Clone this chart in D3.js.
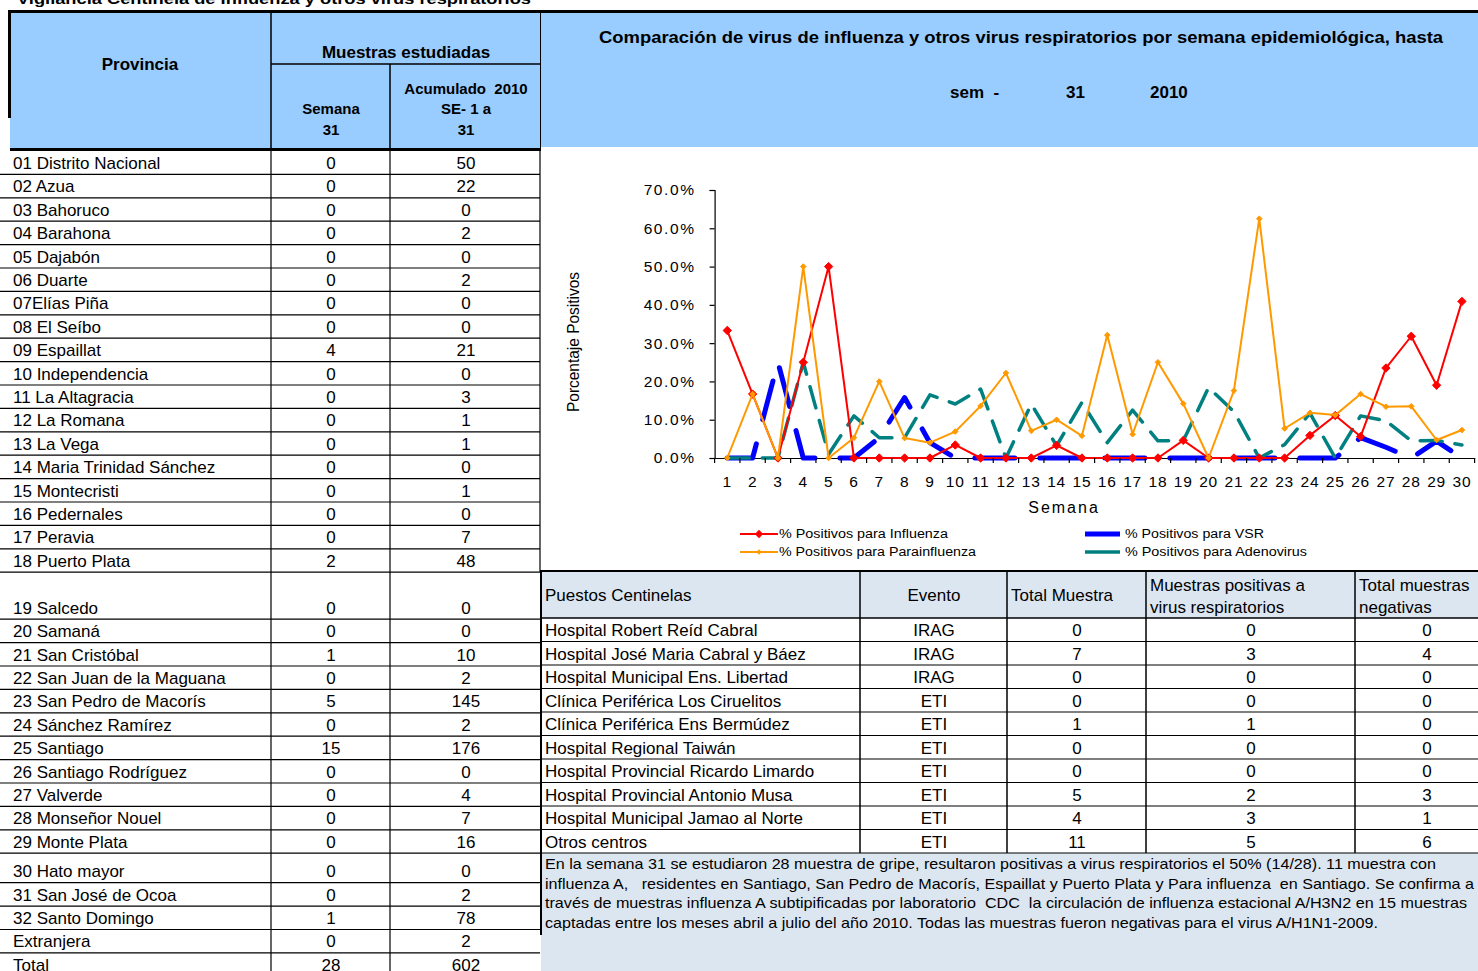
<!DOCTYPE html>
<html>
<head>
<meta charset="utf-8">
<script src="https://cdn.jsdelivr.net/npm/d3@7"></script>
<style>
body { margin: 0; background: #fff; }
svg { display: block; font-family: "Liberation Sans", Arial, sans-serif; }
</style>
</head>
<body>
<svg id="sheet" width="1478" height="971"></svg>
<script>
// ---- chart data (percent of positives per epidemiological week) ----
const weeks = [1,2,3,4,5,6,7,8,9,10,11,12,13,14,15,16,17,18,19,20,21,22,23,24,25,26,27,28,29,30]
const influenza     = [33.3,16.7,0,25,50,0,0,0,0,3.4,0,0,0,3.3,0,0,0,0,4.6,0,0,0,0,5.9,11.1,5.6,23.5,31.8,19.0,40.9]
const vsr           = [0,0,25,0,0,0,5.3,15.8,4.0,0,0,0,0,0,0,0,0,0,0,0,0,0,0,0,0,5.3,2.8,0,4.4,0]
const parainfluenza = [0,16.7,0,50,0,5.3,20,5.2,4.0,6.9,13.6,22.2,7.1,10,5.8,32.1,6.2,25,14.2,0,17.6,62.5,7.7,11.8,11.2,16.7,13.4,13.5,4.7,7.3]
const adenovirus    = [0,0,0,25,1,11,5.3,5.3,16.5,14.1,18,0,14.1,3.2,14.5,4,12.5,4.5,4.5,18.4,12.1,0,3.5,11.7,0,11,9.7,4.5,4.6,3.4]
const yTicks = [0,10,20,30,40,50,60,70]

// ---- province table ----
const provinces = ["01 Distrito Nacional","02 Azua","03 Bahoruco","04 Barahona","05 Dajabón","06 Duarte",
  "07Elías Piña","08 El Seíbo","09 Espaillat","10 Independencia","11 La Altagracia","12 La Romana",
  "13 La Vega","14 Maria Trinidad Sánchez","15 Montecristi","16 Pedernales","17 Peravia","18 Puerto Plata",
  "19 Salcedo","20 Samaná","21 San Cristóbal","22 San Juan de la Maguana","23 San Pedro de Macorís",
  "24 Sánchez Ramírez","25 Santiago","26 Santiago Rodríguez","27 Valverde","28 Monseñor Nouel",
  "29 Monte Plata","30 Hato mayor","31 San José de Ocoa","32 Santo Domingo","Extranjera","Total"]
const semana31   = [0,0,0,0,0,0,0,0,4,0,0,0,0,0,0,0,0,2,0,0,1,0,5,0,15,0,0,0,0,0,0,1,0,28]
const acumulado  = [50,22,0,2,0,2,0,0,21,0,3,1,1,0,1,0,7,48,0,0,10,2,145,2,176,0,4,7,16,0,2,78,2,602]

// ---- sentinel sites table ----
const sentinelHeaders = ["Puestos Centinelas","Evento","Total Muestra","Muestras positivas a|virus respiratorios","Total muestras|negativas"]
const sites = ["Hospital Robert Reíd Cabral","Hospital José Maria Cabral y Báez","Hospital Municipal Ens. Libertad",
  "Clínica Periférica Los Ciruelitos","Clínica Periférica Ens Bermúdez","Hospital Regional Taiwán",
  "Hospital Provincial Ricardo Limardo","Hospital Provincial Antonio Musa","Hospital Municipal Jamao al Norte","Otros centros"]
const eventos   = ["IRAG","IRAG","IRAG","ETI","ETI","ETI","ETI","ETI","ETI","ETI"]
const totalMuestra = [0,7,0,0,1,0,0,5,4,11]
const positivas    = [0,3,0,0,1,0,0,2,3,5]
const negativas    = [0,4,0,0,0,0,0,3,1,6]

const noteLines = [
  "En la semana 31 se estudiaron 28 muestra de gripe, resultaron positivas a virus respiratorios el 50% (14/28). 11 muestra con",
  "influenza A,   residentes en Santiago, San Pedro de Macorís, Espaillat y Puerto Plata y Para influenza  en Santiago. Se confirma a",
  "través de muestras influenza A subtipificadas por laboratorio  CDC  la circulación de influenza estacional A/H3N2 en 15 muestras",
  "captadas entre los meses abril a julio del año 2010. Todas las muestras fueron negativas para el virus A/H1N1-2009."
]

const svg = d3.select("#sheet")
const BLUE = "#99CCFF", PALE = "#DCE6F1"

function line(x1, y1, x2, y2, w) {
  svg.append("line").attr("x1", x1).attr("y1", y1).attr("x2", x2).attr("y2", y2)
    .attr("stroke", "#000").attr("stroke-width", w || 1)
}
function text(x, y, s, opts) {
  opts = opts || {}
  const t = svg.append("text").attr("x", x).attr("y", y).text(s)
    .attr("font-size", opts.size || 17)
    .attr("text-anchor", opts.anchor || "start")
    .attr("font-weight", opts.bold ? "bold" : "normal")
    .attr("fill", "#000")
  if (opts.len) t.attr("textLength", opts.len).attr("lengthAdjust", "spacingAndGlyphs")
  if (opts.ls) t.style("letter-spacing", opts.ls + "px")
  return t
}

// ================= header band =================
text(17, 4, "Vigilancia Centinela de Influenza y otros virus respiratorios", {bold: true, size: 15, len: 514})

svg.append("rect").attr("x", 10).attr("y", 13).attr("width", 530).attr("height", 136).attr("fill", BLUE)
svg.append("rect").attr("x", 541).attr("y", 13).attr("width", 937).attr("height", 134).attr("fill", BLUE)
line(8, 11.5, 1478, 11.5, 3)
line(9.5, 10, 9.5, 118, 3)
line(10, 149.5, 540, 149.5, 3)
line(271, 13, 271, 151, 1.5)
line(271, 64, 540, 64, 1.5)
line(390, 64, 390, 151, 1.5)
line(540.5, 13, 540.5, 151, 1)

text(140, 70, "Provincia", {bold: true, anchor: "middle"})
text(406, 58, "Muestras estudiadas", {bold: true, anchor: "middle"})
text(331, 114, "Semana", {bold: true, size: 15, anchor: "middle"})
text(331, 135, "31", {bold: true, size: 15, anchor: "middle"})
text(466, 94, "Acumulado  2010", {bold: true, size: 15, anchor: "middle"}).style("white-space", "pre")
text(466, 114, "SE- 1 a", {bold: true, size: 15, anchor: "middle"})
text(466, 135, "31", {bold: true, size: 15, anchor: "middle"})

text(1021, 43, "Comparación de virus de influenza y otros virus respiratorios por semana epidemiológica, hasta",
  {bold: true, anchor: "middle", len: 844})
text(950, 98, "sem  -", {bold: true}).style("white-space", "pre")
text(1066, 98, "31", {bold: true})
text(1150, 98, "2010", {bold: true})

// ================= province table =================
let rowTops = []
let yy = 151
provinces.forEach(function(p) {
  rowTops.push(yy)
  let h = 23.4
  if (p.startsWith("19 ")) h = 47
  if (p.startsWith("30 ")) h = 29.5
  yy += h
})
rowTops.push(yy)

const prov = svg.append("g")
provinces.forEach(function(p, i) {
  const bottom = rowTops[i + 1]
  const base = bottom - 5.5
  prov.append("text").attr("x", 13).attr("y", base).attr("font-size", 17).text(p)
  prov.append("text").attr("x", 331).attr("y", base).attr("font-size", 17).attr("text-anchor", "middle").text(semana31[i])
  prov.append("text").attr("x", 466).attr("y", base).attr("font-size", 17).attr("text-anchor", "middle").text(acumulado[i])
  if (p !== "Total") line(0, bottom, 540, bottom, 1.2)
})
line(271, 151, 271, 971, 1.2)
line(390, 151, 390, 971, 1.2)
line(540, 151, 540, 572, 1.2)

// ================= sentinel table =================
const colX = [541, 860, 1007, 1146, 1355]
svg.append("rect").attr("x", 541).attr("y", 571).attr("width", 937).attr("height", 47).attr("fill", PALE)
svg.append("rect").attr("x", 541).attr("y", 853).attr("width", 937).attr("height", 118).attr("fill", PALE)
line(540, 571, 1478, 571, 2)

// header cells
text(545, 601, sentinelHeaders[0])
text(934, 601, sentinelHeaders[1], {anchor: "middle"})
text(1011, 601, sentinelHeaders[2])
sentinelHeaders[3].split("|").forEach(function(s, k) { text(1150, 591 + k * 22, s) })
sentinelHeaders[4].split("|").forEach(function(s, k) { text(1359, 591 + k * 22, s) })

const siteTop = 618, siteH = 23.5
line(540, siteTop, 1478, siteTop, 1.5)
sites.forEach(function(s, i) {
  const bottom = siteTop + (i + 1) * siteH
  const base = bottom - 5.5
  text(545, base, s)
  text(934, base, eventos[i], {anchor: "middle"})
  text(1077, base, totalMuestra[i], {anchor: "middle"})
  text(1251, base, positivas[i], {anchor: "middle"})
  text(1427, base, negativas[i], {anchor: "middle"})
  line(540, bottom, 1478, bottom, 1.2)
})
colX.slice(1).forEach(function(x) { line(x, 571, x, 853, 1.5) })
line(541, 571, 541, 935, 2)

noteLines.forEach(function(s, i) {
  text(545, 869 + i * 19.6, s, {size: 15, len: [891, 929, 922, 833][i]}).style("white-space", "pre")
})

// ================= line chart =================
const xScale = d3.scaleBand().domain(weeks).range([714.6, 1474.6])
const yScale = d3.scaleLinear().domain([0, 70]).range([458, 190])
const chart = svg.append("g")

const yAxis = chart.append("g")
  .attr("transform", "translate(714.6,0)")
  .call(d3.axisLeft(yScale).tickValues(yTicks).tickSize(5).tickPadding(14)
    .tickFormat(function(d) { return d.toFixed(1) + "%" }))
yAxis.select(".domain").attr("stroke", "#000").attr("stroke-width", 1.2)
yAxis.selectAll("line").attr("stroke", "#000").attr("stroke-width", 1.2)
yAxis.selectAll("text").attr("font-size", 15.5).attr("font-family", "Liberation Sans, Arial")
  .attr("fill", "#000").style("letter-spacing", "1.6px")

const xAxis = chart.append("g")
  .attr("transform", "translate(0,458)")
  .call(d3.axisBottom(xScale).tickSize(0).tickPadding(18))
xAxis.select(".domain").attr("stroke", "#000").attr("stroke-width", 1.2)
xAxis.selectAll("text").attr("font-size", 15.5).attr("font-family", "Liberation Sans, Arial")
  .attr("fill", "#000").style("letter-spacing", "0.8px")
// category boundary ticks
weeks.concat(["end"]).forEach(function(w, i) {
  const x = i < weeks.length ? xScale(w) : xScale(weeks[weeks.length - 1]) + xScale.bandwidth()
  line(x, 458, x, 463, 1.2)
})

text(573, 342, "Porcentaje Positivos", {anchor: "middle", len: 140})
  .attr("transform", "rotate(-90,573,342)").attr("dy", 6)
text(1064, 513, "Semana", {size: 16, anchor: "middle", ls: 2})

const px = function(d, i) { return xScale(weeks[i]) + xScale.bandwidth() / 2 }
const lineGen = d3.line().x(px).y(function(d) { return yScale(d) })

const series = [
  {name: "% Positivos para VSR", values: vsr, color: "#0000FF", width: 5, dash: "40,25", marker: 0},
  {name: "% Positivos para Adenovirus", values: adenovirus, color: "#008080", width: 3.5, dash: "22,13", marker: 0},
  {name: "% Positivos para Influenza", values: influenza, color: "#FF0000", width: 2, dash: null, marker: 4.5},
  {name: "% Positivos para Parainfluenza", values: parainfluenza, color: "#FF9900", width: 2, dash: null, marker: 3}
]

series.forEach(function(s) {
  chart.append("path")
    .datum(s.values)
    .attr("fill", "none")
    .attr("stroke", s.color)
    .attr("stroke-width", s.width)
    .attr("stroke-linecap", s.dash ? "round" : "butt")
    .attr("stroke-linejoin", "round")
    .attr("stroke-dasharray", s.dash)
    .attr("d", lineGen)
  if (s.marker) {
    chart.append("g").selectAll("path")
      .data(s.values)
      .join("path")
      .attr("transform", function(d, i) { return "translate(" + px(d, i) + "," + yScale(d) + ")" })
      .attr("d", d3.symbol(d3.symbolDiamond2, s.marker * s.marker * 2.2))
      .attr("fill", s.color)
      .attr("stroke", s.color)
      .attr("stroke-width", 1)
  }
})

// legend
const legendItems = [
  {s: series[2], x: 740, y: 534, len: 169},
  {s: series[0], x: 1085, y: 534, len: 139},
  {s: series[3], x: 740, y: 552, len: 197},
  {s: series[1], x: 1085, y: 552, len: 182}
]
legendItems.forEach(function(it) {
  const s = it.s
  const w = s.marker ? 38 : 35
  svg.append("line").attr("x1", it.x).attr("x2", it.x + w).attr("y1", it.y).attr("y2", it.y)
    .attr("stroke", s.color).attr("stroke-width", s.width)
  if (s.marker) {
    svg.append("path").attr("transform", "translate(" + (it.x + 19) + "," + it.y + ")")
      .attr("d", d3.symbol(d3.symbolDiamond2, s.marker * s.marker * 2.2))
      .attr("fill", s.color)
  }
  text(it.x + w + 1 + (s.marker ? 0 : 4), it.y + 4, s.name, {size: 12, len: it.len})
})
</script>
</body>
</html>
